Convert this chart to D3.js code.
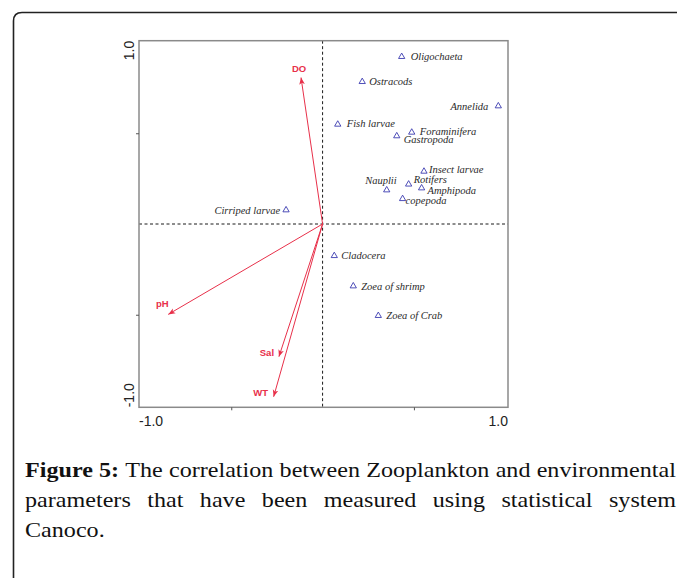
<!DOCTYPE html>
<html><head><meta charset="utf-8">
<script src="https://cdn.jsdelivr.net/npm/d3@7"></script>
<style>
html,body{margin:0;padding:0;background:#fff;}
svg{display:block;}
</style></head>
<body>
<svg id="chart" width="677" height="578"></svg>
<script>
// ---- data ----
const species = ["Oligochaeta","Ostracods","Annelida","Fish larvae","Foraminifera","Gastropoda",
  "Insect larvae","Rotifers","Amphipoda","Nauplii","copepoda","Cirriped larvae","Cladocera",
  "Zoea of shrimp","Zoea of Crab"];
const speciesAxis1 = [0.433,0.217,0.962,0.083,0.488,0.406,0.555,0.471,0.542,0.351,0.438,-0.200,0.064,0.168,0.305];
const speciesAxis2 = [0.922,0.784,0.650,0.549,0.505,0.485,0.290,0.219,0.198,0.187,0.139,0.077,-0.175,-0.342,-0.505];
const envVars = ["DO","pH","Sal","WT"];
const envAxis1 = [-0.118,-0.845,-0.239,-0.268];
const envAxis2 = [0.807,-0.498,-0.731,-0.952];
const tickValues = [-0.5,0.5];
const tickLabelsX = ["-1.0","1.0"];
const tickLabelsY = ["-1.0","1.0"];
const captionBold = "Figure 5:";
const captionText = "The correlation between Zooplankton and environmental parameters that have been measured using statistical system Canoco.";

// ---- label placement (layout) ----
const speciesLabelPlace = {
  "Oligochaeta":[9,3.5,"start"], "Ostracods":[7,3.5,"start"], "Annelida":[-10,3.5,"end"],
  "Fish larvae":[9,3,"start"], "Foraminifera":[8,2.5,"start"], "Gastropoda":[7,7.5,"start"],
  "Insect larvae":[5,1.5,"start"], "Rotifers":[5,-1,"start"], "Amphipoda":[6,6,"start"],
  "Nauplii":[10,-6,"end"], "copepoda":[3,5,"start"], "Cirriped larvae":[-6,3.5,"end"],
  "Cladocera":[7,3.5,"start"], "Zoea of shrimp":[8,3.5,"start"], "Zoea of Crab":[8,3.5,"start"]
};
const envLabelPlace = {"DO":[-2,-6,"middle"],"pH":[-6,-7,"middle"],"Sal":[-12,-1,"middle"],"WT":[-13,-1,"middle"]};

const svg = d3.select("#chart");

// frame
svg.append("path")
  .attr("d","M13.5,578 L13.5,21 Q13.5,12.5 22,12.5 L677,12.5")
  .attr("fill","none").attr("stroke","#222").attr("stroke-width",1.6);

const x = d3.scaleLinear().domain([-1.005,1.015]).range([139,508]);
const y = d3.scaleLinear().domain([-1.01,1.01]).range([407.3,40.7]);

// dashed zero lines
svg.append("line").attr("x1",x(0)).attr("x2",x(0)).attr("y1",y.range()[1]).attr("y2",y.range()[0])
  .attr("stroke","#000").attr("stroke-width",0.9).attr("stroke-dasharray","3,2.5");
svg.append("line").attr("x1",x.range()[0]).attr("x2",x.range()[1]).attr("y1",y(0)).attr("y2",y(0))
  .attr("stroke","#000").attr("stroke-width",0.9).attr("stroke-dasharray","3,2.5");

// box
svg.append("rect").attr("x",x.range()[0]).attr("y",y.range()[1])
  .attr("width",x.range()[1]-x.range()[0]).attr("height",y.range()[0]-y.range()[1])
  .attr("fill","none").attr("stroke","#8a8a8a").attr("stroke-width",1.5);

// axes ticks (outer)
const xAxis = d3.axisBottom(x).tickValues(tickValues).tickSize(3).tickFormat("");
svg.append("g").attr("transform",`translate(0,${y.range()[0]})`).call(xAxis)
  .call(g=>{g.select(".domain").remove(); g.selectAll("line").attr("stroke","#555");});
const yAxis = d3.axisLeft(y).tickValues(tickValues).tickSize(3).tickFormat("");
svg.append("g").attr("transform",`translate(${x.range()[0]},0)`).call(yAxis)
  .call(g=>{g.select(".domain").remove(); g.selectAll("line").attr("stroke","#555");});

// tick labels
const tf = "'Liberation Sans', Arial, sans-serif";
svg.append("text").attr("x",x.range()[0]).attr("y",425.5).attr("text-anchor","start")
  .attr("font-family",tf).attr("font-size",14).attr("fill","#222").text(tickLabelsX[0]);
svg.append("text").attr("x",x.range()[1]).attr("y",425.5).attr("text-anchor","end")
  .attr("font-family",tf).attr("font-size",14).attr("fill","#222").text(tickLabelsX[1]);
svg.append("text").attr("transform",`translate(133.5,${y.range()[1]}) rotate(-90)`).attr("text-anchor","end")
  .attr("font-family",tf).attr("font-size",14).attr("fill","#222").text(tickLabelsY[1]);
svg.append("text").attr("transform",`translate(133.5,${y.range()[0]}) rotate(-90)`).attr("text-anchor","start")
  .attr("font-family",tf).attr("font-size",14).attr("fill","#222").text(tickLabelsY[0]);

// arrows
const red = "#e8304a";
svg.append("defs").append("marker").attr("id","ah").attr("viewBox","0 0 10 10")
  .attr("refX",10).attr("refY",5).attr("markerWidth",7).attr("markerHeight",7)
  .attr("markerUnits","userSpaceOnUse").attr("orient","auto")
  .append("path").attr("d","M0,1 L10,5 L0,9 L2.5,5 Z").attr("fill",red);

const envData = envVars.map((n,i)=>({n,a:envAxis1[i],b:envAxis2[i]}));
svg.append("g").selectAll("line").data(envData).join("line")
  .attr("x1",x(0)).attr("y1",y(0)).attr("x2",d=>x(d.a)).attr("y2",d=>y(d.b))
  .attr("stroke",red).attr("stroke-width",1).attr("marker-end","url(#ah)");
svg.append("g").selectAll("text").data(envData).join("text")
  .attr("x",d=>x(d.a)+envLabelPlace[d.n][0]).attr("y",d=>y(d.b)+envLabelPlace[d.n][1])
  .attr("text-anchor",d=>envLabelPlace[d.n][2])
  .attr("font-family",tf).attr("font-weight","bold").attr("font-size",9.5).attr("fill",red)
  .text(d=>d.n);

// species
const spData = species.map((n,i)=>({n,a:speciesAxis1[i],b:speciesAxis2[i]}));
const tri = d3.symbol().type(d3.symbolTriangle).size(17);
svg.append("g").selectAll("path").data(spData).join("path")
  .attr("d",tri).attr("transform",d=>`translate(${x(d.a)},${y(d.b)})`)
  .attr("fill","none").attr("stroke","#3b3bb0").attr("stroke-width",0.9);
svg.append("g").selectAll("text").data(spData).join("text")
  .attr("x",d=>x(d.a)+speciesLabelPlace[d.n][0]).attr("y",d=>y(d.b)+speciesLabelPlace[d.n][1])
  .attr("text-anchor",d=>speciesLabelPlace[d.n][2])
  .attr("font-family","'Liberation Serif','Times New Roman',serif").attr("font-style","italic")
  .attr("font-size",10.5).attr("fill","#2a2a2a").text(d=>d.n);

// caption (justified, horizontally stretched to match the wider original face)
const capFont = "'Liberation Serif','Times New Roman',serif";
const left = 25, right = 676, baselines = [477, 507, 537];
const fs = 21;
const words = [{t:captionBold,b:true}].concat(captionText.split(" ").map(t=>({t,b:false})));
const meas = svg.append("text").attr("font-family",capFont).attr("font-size",fs);
function w(word){ meas.attr("font-weight",word.b?"bold":"normal").text(word.t); return meas.node().getComputedTextLength(); }
meas.attr("font-weight","normal").text("a a"); const aa1 = meas.node().getComputedTextLength();
meas.text("aa"); const spW = aa1 - meas.node().getComputedTextLength();
const breaks = [ words.findIndex(d=>d.t==="environmental"), words.findIndex(d=>d.t==="system") ];
const lines = [words.slice(0,breaks[0]+1), words.slice(breaks[0]+1,breaks[1]+1), words.slice(breaks[1]+1)];
const widthsAll = lines.map(ln=>ln.map(w));
meas.remove();
const natural0 = d3.sum(widthsAll[0]) + spW*(lines[0].length-1);
const sx = Math.min(1.3, (right-left-1)/natural0);
const capG = svg.append("g").attr("font-family",capFont).attr("fill","#111")
  .attr("transform",`translate(${left},0) scale(${sx},1)`);
const avail = (right-left)/sx;
lines.forEach((ln,li)=>{
  const widths = widthsAll[li];
  const sumW = d3.sum(widths);
  const justify = li < lines.length-1;
  const gap = justify ? (avail-sumW)/(ln.length-1) : spW;
  let cx = 0;
  ln.forEach((w2,i)=>{
    capG.append("text").attr("x",cx).attr("y",baselines[li]).attr("font-size",fs)
      .attr("font-weight",w2.b?"bold":"normal").text(w2.t);
    cx += widths[i]+gap;
  });
});
</script>
</body></html>
